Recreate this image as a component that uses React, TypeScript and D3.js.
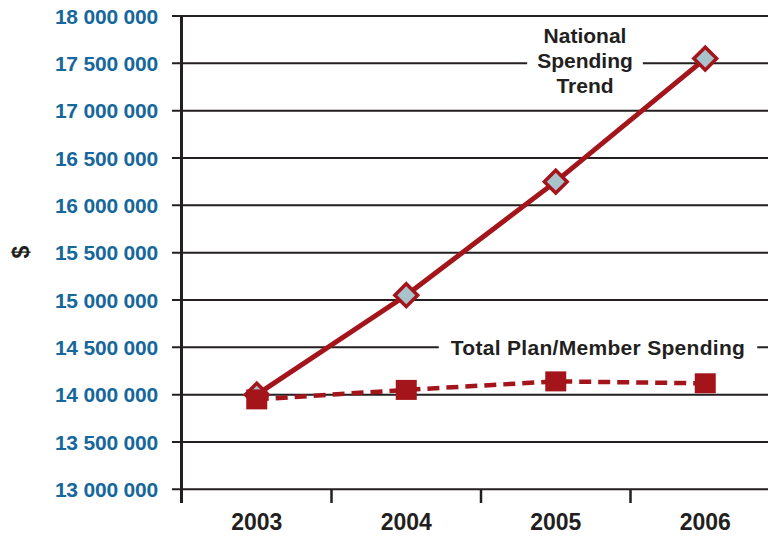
import React, { useEffect, useRef } from "react";
import * as d3 from "d3";

const years = ["2003", "2004", "2005", "2006"];
const nationalTrend = [14000000, 15050000, 16250000, 17550000];
const planMemberSpending = [13950000, 14050000, 14140000, 14120000];
const yTicks = [13000000, 13500000, 14000000, 14500000, 15000000, 15500000, 16000000, 16500000, 17000000, 17500000, 18000000];
const nationalLabel = ["National", "Spending", "Trend"];
const planLabel = "Total Plan/Member Spending";
const yAxisTitle = "$";

const W = 768;
const H = 536;
const RED = "#a3141b";
const BLUE = "#16679c";
const DARK = "#231f20";
const FONT = "'Liberation Sans', Arial, sans-serif";

export default function App() {
  const ref = useRef<SVGSVGElement>(null);

  useEffect(() => {
    const svg = d3.select(ref.current);
    svg.selectAll("*").remove();

    const y = d3.scaleLinear().domain([13000000, 18000000]).range([489.3, 16]);
    const x = d3.scaleBand<string>().domain(years).range([182, 780]).padding(0);
    const cx = (d: string) => (x(d) as number) + x.bandwidth() / 2;
    const fmt = (v: number) => d3.format(",")(v).replace(/,/g, " ");

    // gridlines
    svg.append("g").selectAll("line").data(yTicks).join("line")
      .attr("x1", 172).attr("x2", W)
      .attr("y1", (d) => y(d)).attr("y2", (d) => y(d))
      .attr("stroke", DARK).attr("stroke-width", 2);

    // y labels
    svg.append("g").selectAll("text").data(yTicks).join("text")
      .attr("x", 158).attr("y", (d) => y(d)).attr("dy", "0.36em")
      .attr("text-anchor", "end")
      .attr("font-family", FONT).attr("font-weight", "bold").attr("font-size", 21)
      .attr("letter-spacing", -0.2)
      .attr("fill", BLUE).text((d) => fmt(d));

    // y axis line
    svg.append("line").attr("x1", 181.5).attr("x2", 181.5).attr("y1", 15).attr("y2", 503)
      .attr("stroke", DARK).attr("stroke-width", 3);

    // x ticks
    svg.append("g").selectAll("line").data(years.slice(1)).join("line")
      .attr("x1", (d) => x(d) as number).attr("x2", (d) => x(d) as number)
      .attr("y1", y(13000000)).attr("y2", 503)
      .attr("stroke", DARK).attr("stroke-width", 2.5);

    // x labels
    svg.append("g").selectAll("text").data(years).join("text")
      .attr("x", cx).attr("y", 530)
      .attr("text-anchor", "middle")
      .attr("font-family", FONT).attr("font-weight", "bold").attr("font-size", 23)
      .attr("fill", DARK).text((d) => d);

    // y title
    svg.append("text")
      .attr("transform", "translate(21,252) rotate(-90)")
      .attr("text-anchor", "middle").attr("dy", "0.36em")
      .attr("font-family", FONT).attr("font-weight", "bold").attr("font-size", 23)
      .attr("fill", DARK).text(yAxisTitle);

    // labels with white knockouts
    const natG = svg.append("g");
    const natText = natG.append("text")
      .attr("text-anchor", "middle")
      .attr("font-family", FONT).attr("font-weight", "bold").attr("font-size", 21)
      .attr("fill", DARK);
    nationalLabel.forEach((t, i) => {
      natText.append("tspan").attr("x", 585).attr("y", 43 + i * 25).text(t);
    });
    const nb = (natText.node() as SVGTextElement).getBBox();
    natG.insert("rect", "text").attr("x", nb.x - 10).attr("y", nb.y).attr("width", nb.width + 20).attr("height", nb.height).attr("fill", "white");

    const planG = svg.append("g");
    const planText = planG.append("text")
      .attr("x", 598).attr("y", y(14500000)).attr("dy", "0.36em")
      .attr("text-anchor", "middle")
      .attr("font-family", FONT).attr("font-weight", "bold").attr("font-size", 21)
      .attr("letter-spacing", 0.3)
      .attr("fill", DARK).text(planLabel);
    const pb = (planText.node() as SVGTextElement).getBBox();
    planG.insert("rect", "text").attr("x", pb.x - 12).attr("y", pb.y).attr("width", pb.width + 24).attr("height", pb.height).attr("fill", "white");

    // national line
    const line = d3.line<number>().x((_, i) => cx(years[i])).y((d) => y(d));
    svg.append("path").attr("d", line(nationalTrend) as string)
      .attr("fill", "none").attr("stroke", RED).attr("stroke-width", 5);
    svg.append("g").selectAll("path").data(nationalTrend).join("path")
      .attr("d", d3.symbol().type(d3.symbolSquare).size(260)() as string)
      .attr("transform", (d, i) => `translate(${cx(years[i])},${y(d)}) rotate(45)`)
      .attr("fill", "#a8c3cb").attr("stroke", RED).attr("stroke-width", 3.5);

    // plan line
    svg.append("path").attr("d", line(planMemberSpending) as string)
      .attr("fill", "none").attr("stroke", RED).attr("stroke-width", 4.5)
      .attr("stroke-dasharray", "12,7");
    svg.append("g").selectAll("rect").data(planMemberSpending).join("rect")
      .attr("x", (_, i) => cx(years[i]) - 10.5).attr("y", (d) => y(d) - 10)
      .attr("width", 21).attr("height", 20)
      .attr("fill", RED);
  }, []);

  return (
    <svg ref={ref} width={W} height={H}
      style={{ position: "fixed", left: 0, top: 0, background: "white" }} />
  );
}
